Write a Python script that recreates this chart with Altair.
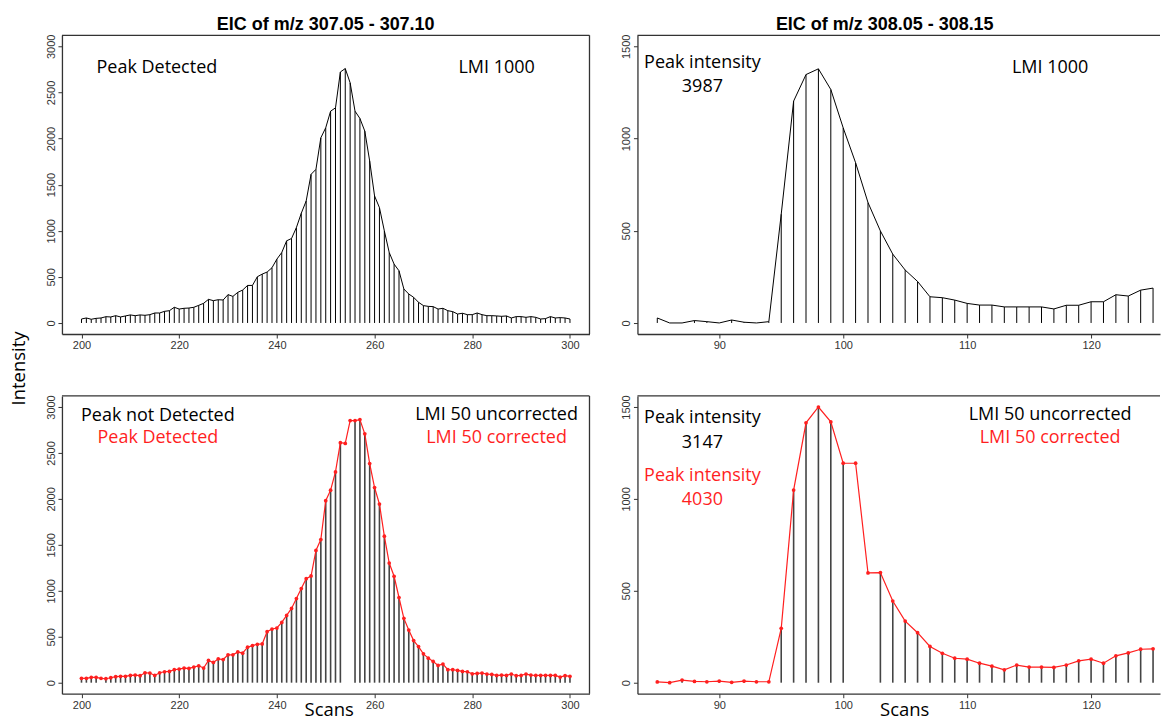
import altair as alt
import pandas as pd

# ---------------- data ----------------
scans_a = list(range(200, 301))
top_a_vals = [43, 54, 40, 50, 54, 68, 65, 79, 65, 76, 87, 79, 87, 83, 90, 108, 108, 126, 133, 170,
              151, 159, 162, 170, 191, 213, 256, 242, 252, 249, 307, 288, 332, 357, 407, 407, 501, 530, 552, 599,
              692, 764, 891, 916, 1035, 1190, 1323, 1612, 1666, 2008, 2117, 2297, 2333, 2722, 2759, 2604, 2297, 2218, 2081, 1756,
              1377, 1251, 999, 764, 638, 566, 368, 314, 278, 224, 188, 180, 177, 151, 159, 133, 123, 97, 105, 90,
              90, 108, 90, 79, 79, 76, 72, 76, 54, 69, 69, 61, 69, 61, 43, 47, 69, 54, 58, 54, 43]
bot_a_corr = [47, 47, 58, 58, 47, 43, 54, 65, 69, 69, 79, 83, 76, 108, 105, 79, 108, 119, 123, 141,
              148, 159, 155, 170, 184, 159, 242, 220, 260, 252, 303, 303, 335, 321, 386, 404, 418, 422, 555, 584,
              595, 656, 732, 808, 916, 1024, 1132, 1161, 1439, 1558, 1980, 2095, 2293, 2611, 2604, 2852, 2852, 2863, 2708, 2384,
              2124, 1944, 1594, 1302, 1158, 927, 700, 573, 458, 393, 314, 267, 231, 188, 202, 141, 141, 133, 123, 119,
              97, 101, 105, 94, 90, 79, 83, 79, 94, 76, 79, 94, 83, 79, 79, 79, 79, 79, 61, 76, 69]
bot_a_missing = [204, 254, 255]

scans_b = list(range(85, 126))
top_b_vals = [27, 0, 0, 13, 7, 0, 16, 4, 0, 7, 590, 1203, 1347, 1378, 1266, 1058, 869, 653, 499, 373,
              287, 225, 142, 137, 124, 106, 97, 97, 87, 87, 87, 87, 76, 96, 96, 115, 115, 153, 146, 178, 189]
bot_b_corr = [4, 0, 14, 7, 5, 9, 2, 9, 5, 5, 296, 1048, 1414, 1500, 1419, 1194, 1194, 597, 599, 444,
              335, 272, 197, 160, 133, 128, 106, 90, 70, 96, 85, 85, 83, 96, 119, 128, 106, 146, 162, 182, 184]
bot_b_missing = [101, 102]

titles = ["EIC of m/z 307.05 - 307.10", "EIC of m/z 308.05 - 308.15"]
ticks_a_x = [200, 220, 240, 260, 280, 300]
ticks_b_x = [90, 100, 110, 120]
ticks_a_y = [0, 500, 1000, 1500, 2000, 2500, 3000]
ticks_b_y = [0, 500, 1000, 1500]

RED = "#ff1f1f"
ANN_FONT = "Open Sans"
ANN_SIZE = 18

WL, WR = 528, 523
HT, HB = 299, 298
DOM_A_X = [196, 304]
DOM_B_X = [83.4, 125.56]
DOM_A_Y = [-120, 3120]
DOM_B_Y = [-60, 1560]


def uncorrected(scans, vals, missing):
    return [0 if s in missing else v for s, v in zip(scans, vals)]


def text_layer(txt, px, py, color="black"):
    return alt.Chart(alt.Data(values=[{}])).mark_text(
        font=ANN_FONT, fontSize=ANN_SIZE, align="center", baseline="alphabetic", color=color
    ).encode(x=alt.value(px), y=alt.value(py), text=alt.value(txt))


def box_layers(W, H, right=True):
    base = alt.Chart(alt.Data(values=[{}])).mark_rule(color="#333", strokeWidth=1.3)
    layers = [base.encode(x=alt.value(0), x2=alt.value(W), y=alt.value(0))]
    if right:
        layers.append(base.encode(x=alt.value(W), y=alt.value(0), y2=alt.value(H)))
    return layers


def panel(scans, bar_vals, line_vals, W, H, xdom, xticks, ydom, yticks, bottom, texts,
          title=None, title_dx=0, intensity=False, right_box=True):
    df = pd.DataFrame({"scan": scans, "bar": bar_vals, "val": line_vals})
    xs = alt.Scale(domain=xdom, nice=False, zero=False)
    ys = alt.Scale(domain=ydom, nice=False, zero=False)
    if bottom:
        xaxis = alt.Axis(values=xticks, format="d", title="Scans", titleX=267, titleY=22,
                         titleFont=ANN_FONT, titleFontSize=18.5, titleFontWeight="normal",
                         titleBaseline="alphabetic", titleAlign="center", titleColor="black")
    else:
        xaxis = alt.Axis(values=xticks, format="d", title="")
    if intensity:
        yaxis = alt.Axis(values=yticks, format="d", labelAngle=270, labelAlign="center", labelBaseline="bottom",
                         title="Intensity", titleX=-43, titleY=333, titleAngle=270,
                         titleFont=ANN_FONT, titleFontSize=18.5, titleFontWeight="normal",
                         titleBaseline="middle", titleAlign="center", titleColor="black")
    else:
        yaxis = alt.Axis(values=yticks, format="d", labelAngle=270, labelAlign="center",
                         labelBaseline="bottom", title="")

    base = alt.Chart(df)
    if bottom:
        bars = base.mark_rule(color="#444", strokeWidth=1.6)
        line = base.mark_line(color=RED, strokeWidth=1.2,
                              point=alt.OverlayMarkDef(color=RED, size=14, filled=True, opacity=1))
    else:
        bars = base.mark_rule(color="black", strokeWidth=1)
        line = base.mark_line(color="black", strokeWidth=1)
    bars = bars.encode(x=alt.X("scan:Q", scale=xs, axis=xaxis),
                       y=alt.Y("bar:Q", scale=ys, axis=yaxis), y2=alt.datum(0))
    line = line.encode(x=alt.X("scan:Q", scale=xs), y=alt.Y("val:Q", scale=ys))
    layers = [bars, line] + [text_layer(*t) for t in texts] + box_layers(W, H, right_box)
    ch = alt.layer(*layers).properties(width=W, height=H)
    if title:
        ch = ch.properties(title=alt.TitleParams(title, font="Liberation Sans", fontSize=18, fontWeight="bold",
                                                 color="black", anchor="middle", baseline="alphabetic",
                                                 offset=-14, dx=title_dx))
    return ch


tl = panel(scans_a, top_a_vals, top_a_vals, WL, HT, DOM_A_X, ticks_a_x, DOM_A_Y, ticks_a_y, False,
           [("Peak Detected", 95, 38), ("LMI 1000", 435, 38)], title=titles[0], intensity=True)
tr = panel(scans_b, top_b_vals, top_b_vals, WR, HT, DOM_B_X, ticks_b_x, DOM_B_Y, ticks_b_y, False,
           [("Peak intensity", 65, 33), ("3987", 65, 57), ("LMI 1000", 413, 38)],
           title=titles[1], title_dx=-14, right_box=False)
bl = panel(scans_a, uncorrected(scans_a, bot_a_corr, bot_a_missing), bot_a_corr, WL, HB,
           DOM_A_X, ticks_a_x, DOM_A_Y, ticks_a_y, True,
           [("Peak not Detected", 96, 25), ("Peak Detected", 96, 47, RED),
            ("LMI 50 uncorrected", 435, 24), ("LMI 50 corrected", 435, 47, RED)])
br = panel(scans_b, uncorrected(scans_b, bot_b_corr, bot_b_missing), bot_b_corr, WR, HB,
           DOM_B_X, ticks_b_x, DOM_B_Y, ticks_b_y, True,
           [("Peak intensity", 65, 27), ("3147", 65, 52), ("Peak intensity", 65, 85, RED), ("4030", 65, 109, RED),
            ("LMI 50 uncorrected", 413, 24), ("LMI 50 corrected", 413, 47, RED)], right_box=False)

chart = alt.concat(tl, tr, bl, br, columns=2, spacing={"row": 62, "column": 48}, bounds="flush").properties(
    padding={"left": 10, "top": 15, "right": 0, "bottom": 0},
    background="white",
).configure_view(strokeWidth=0).configure_axis(
    grid=False, domainColor="#333", domainWidth=1.3, tickColor="#333", tickWidth=1, tickSize=4,
    labelFont="Liberation Sans", labelFontSize=11, labelColor="#333", labelPadding=1.5,
)

chart.save("out.html", embed_options={"renderer": "svg", "actions": False})
